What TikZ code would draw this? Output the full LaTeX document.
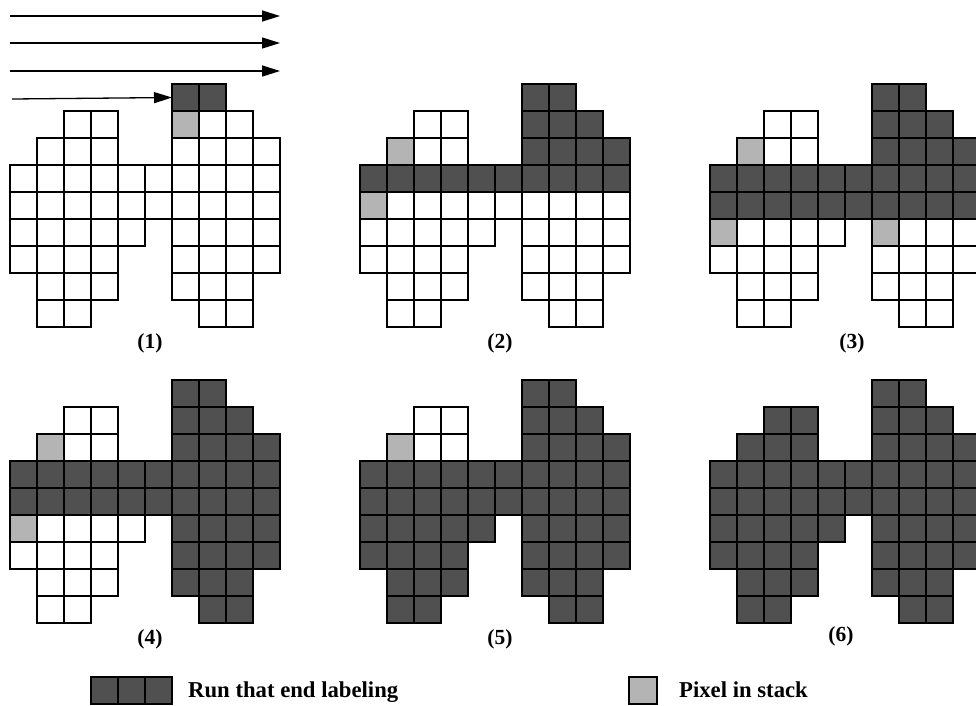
\documentclass[tikz,border=0pt]{standalone}
\usepackage{fontspec}
\setmainfont{Liberation Serif}
\usetikzlibrary{arrows.meta}
\definecolor{runcol}{RGB}{80,80,80}
\definecolor{stackcol}{RGB}{180,180,180}
\def\allcells{6/0,7/0,2/1,3/1,6/1,7/1,8/1,1/2,2/2,3/2,6/2,7/2,8/2,9/2,0/3,1/3,2/3,3/3,4/3,5/3,6/3,7/3,8/3,9/3,0/4,1/4,2/4,3/4,4/4,5/4,6/4,7/4,8/4,9/4,0/5,1/5,2/5,3/5,4/5,6/5,7/5,8/5,9/5,0/6,1/6,2/6,3/6,6/6,7/6,8/6,9/6,1/7,2/7,3/7,6/7,7/7,8/7,1/8,2/8,7/8,8/8}
\def\righttop{6/0,7/0,6/1,7/1,8/1,6/2,7/2,8/2,9/2}
\def\rowthree{0/3,1/3,2/3,3/3,4/3,5/3,6/3,7/3,8/3,9/3}
\def\rowfour{0/4,1/4,2/4,3/4,4/4,5/4,6/4,7/4,8/4,9/4}
\def\rightlow{6/5,7/5,8/5,9/5,6/6,7/6,8/6,9/6,6/7,7/7,8/7,7/8,8/8}
\def\leftlow{0/5,1/5,2/5,3/5,4/5,0/6,1/6,2/6,3/6,1/7,2/7,3/7,1/8,2/8}
\def\topzero{6/0,7/0}
\tikzset{
  cellbox/.style={draw=black,line width=2pt,fill=white},
  runbox/.style={draw=black,line width=2pt,fill=runcol},
  stackbox/.style={draw=black,line width=2pt,fill=stackcol},
  scanarrow/.style={line width=1.3pt,-{Triangle[length=18pt,width=11pt]}},
  panellabel/.style={font=\fontsize{21.5}{24}\selectfont\bfseries,anchor=base,inner sep=0pt},
  legendtext/.style={font=\fontsize{22.7}{26}\selectfont\bfseries,anchor=base west,inner sep=0pt}
}
\newcommand\drawcells[2]{\foreach \cc/\rr in #2 {\path[#1] (\cc*27,\rr*27) rectangle ++(27,27);}}
\begin{document}
\begin{tikzpicture}[x=1pt,y=-1pt]
\useasboundingbox (0,0) rectangle (976,705);
\clip (0,0) rectangle (976,705);
% arrows
\coordinate (a1s) at (10,16); \coordinate (a1e) at (280,16);
\coordinate (a2s) at (10,43); \coordinate (a2e) at (280,43);
\coordinate (a3s) at (10,71); \coordinate (a3e) at (280,71);
\coordinate (a4s) at (12,99); \coordinate (a4e) at (172,97.5);
\draw[scanarrow] (a1s) -- (a1e);
\draw[scanarrow] (a2s) -- (a2e);
\draw[scanarrow] (a3s) -- (a3e);
\draw[scanarrow] (a4s) -- (a4e);
% panel 1
\begin{scope}[shift={(10,84)}]
\drawcells{cellbox}{\allcells}
\drawcells{runbox}{\topzero}
\path[stackbox] (6*27,1*27) rectangle ++(27,27);
\end{scope}
% panel 2
\begin{scope}[shift={(360,84)}]
\drawcells{cellbox}{\allcells}
\drawcells{runbox}{\righttop}
\drawcells{runbox}{\rowthree}
\path[stackbox] (1*27,2*27) rectangle ++(27,27);
\path[stackbox] (0*27,4*27) rectangle ++(27,27);
\end{scope}
% panel 3
\begin{scope}[shift={(710,84)}]
\drawcells{cellbox}{\allcells}
\drawcells{runbox}{\righttop}
\drawcells{runbox}{\rowthree}
\drawcells{runbox}{\rowfour}
\path[stackbox] (1*27,2*27) rectangle ++(27,27);
\path[stackbox] (0*27,5*27) rectangle ++(27,27);
\path[stackbox] (6*27,5*27) rectangle ++(27,27);
\end{scope}
% panel 4
\begin{scope}[shift={(10,380)}]
\drawcells{cellbox}{\allcells}
\drawcells{runbox}{\righttop}
\drawcells{runbox}{\rowthree}
\drawcells{runbox}{\rowfour}
\drawcells{runbox}{\rightlow}
\path[stackbox] (1*27,2*27) rectangle ++(27,27);
\path[stackbox] (0*27,5*27) rectangle ++(27,27);
\end{scope}
% panel 5
\begin{scope}[shift={(360,380)}]
\drawcells{cellbox}{\allcells}
\drawcells{runbox}{\righttop}
\drawcells{runbox}{\rowthree}
\drawcells{runbox}{\rowfour}
\drawcells{runbox}{\rightlow}
\drawcells{runbox}{\leftlow}
\path[stackbox] (1*27,2*27) rectangle ++(27,27);
\end{scope}
% panel 6
\begin{scope}[shift={(710,380)}]
\drawcells{runbox}{\allcells}
\end{scope}
% labels
\node[panellabel] (l1) at (150,348) {(1)};
\node[panellabel] (l2) at (500,348) {(2)};
\node[panellabel] (l3) at (852,348) {(3)};
\node[panellabel] (l4) at (150,644) {(4)};
\node[panellabel] (l5) at (500,644) {(5)};
\node[panellabel] (l6) at (841,641) {(6)};
% legend
\path[runbox] (91,677) rectangle (118,704);
\path[runbox] (118,677) rectangle (145,704);
\path[runbox] (145,677) rectangle (172,704);
\node[legendtext] (legrun) at (188,697) {Run that end labeling};
\path[stackbox] (629,677) rectangle (657,704);
\node[legendtext] (legstack) at (679,697) {Pixel in stack};
\end{tikzpicture}
\end{document}
